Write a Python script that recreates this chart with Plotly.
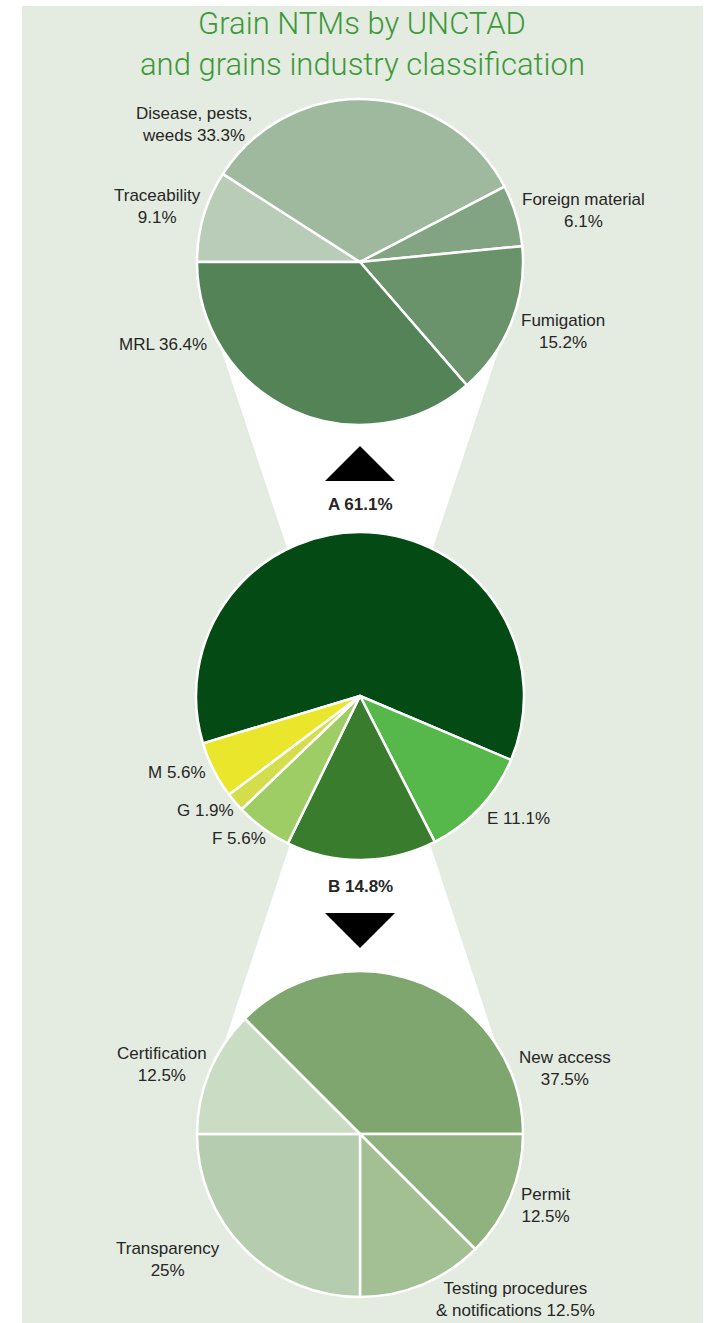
import plotly.graph_objects as go

# ---------------- data ----------------
title_lines = ["Grain NTMs by UNCTAD", "and grains industry classification"]

top_labels = ["Traceability", "Disease, pests, weeds", "Foreign material", "Fumigation", "MRL"]
top_values = [9.1, 33.3, 6.1, 15.2, 36.4]
top_colors = ["#b9ccb8", "#9fb99e", "#82a482", "#6a926b", "#548358"]

mid_labels = ["A", "E", "B", "F", "G", "M"]
mid_values = [61.1, 11.1, 14.8, 5.6, 1.9, 5.6]
mid_colors = ["#034a15", "#56b74b", "#397c2e", "#9dcd64", "#d4dd4c", "#e9e62b"]

bot_labels = ["New access", "Permit", "Testing procedures & notifications", "Transparency", "Certification"]
bot_values = [37.5, 12.5, 12.5, 25, 12.5]
bot_colors = ["#7fa66f", "#8fb27e", "#a3c095", "#b5cdae", "#cbdcc5"]

# ---------------- layout helpers ----------------
W, H = 709, 1323
BG = "#e4ece1"
TXT = "#262626"
FONT = "Roboto, Liberation Sans, Arial, sans-serif"
LABEL_FONT = "Liberation Sans, Arial, sans-serif"


def px(x):
    return x / W


def py(y):
    return 1 - y / H


def fmt(v):
    return f"{v:g}%"


# label display: (text before value, separator)
wrap = {
    "Traceability": ("Traceability", "<br>"),
    "Disease, pests, weeds": ("Disease, pests,<br>weeds", " "),
    "Foreign material": ("Foreign material", "<br>"),
    "Fumigation": ("Fumigation", "<br>"),
    "MRL": ("MRL", " "),
    "New access": ("New access", "<br>"),
    "Permit": ("Permit", "<br>"),
    "Testing procedures & notifications": ("Testing procedures<br>& notifications", " "),
    "Transparency": ("Transparency", "<br>"),
    "Certification": ("Certification", "<br>"),
}

# label positions (pixel centres in the page)
top_pos = {
    "Traceability": (157, 207),
    "Disease, pests, weeds": (194, 124),
    "Foreign material": (583, 211),
    "Fumigation": (563, 331),
    "MRL": (163, 344),
}
mid_pos = {"E": (518, 818), "F": (239, 838), "G": (205, 810), "M": (177, 772),
           "A": (360, 505), "B": (360, 887)}
bot_pos = {
    "New access": (565, 1068),
    "Permit": (545, 1205),
    "Testing procedures & notifications": (515, 1299),
    "Transparency": (168, 1259),
    "Certification": (162, 1064),
}


def domain(cx, cy, r):
    return dict(x=[px(cx - r), px(cx + r)], y=[py(cy + r), py(cy - r)])


fig = go.Figure()

pie_common = dict(sort=False, direction="clockwise", textinfo="none",
                  hoverinfo="label+percent", showlegend=False)

fig.add_trace(go.Pie(labels=top_labels, values=top_values, rotation=-90,
                     marker=dict(colors=top_colors, line=dict(color="white", width=2.5)),
                     domain=domain(360, 262, 163), **pie_common))
fig.add_trace(go.Pie(labels=mid_labels, values=mid_values, rotation=-106.8,
                     marker=dict(colors=mid_colors, line=dict(color="white", width=2.5)),
                     domain=domain(360, 696, 164), **pie_common))
fig.add_trace(go.Pie(labels=bot_labels, values=bot_values, rotation=-45,
                     marker=dict(colors=bot_colors, line=dict(color="white", width=2.5)),
                     domain=domain(360, 1134, 163), **pie_common))

shapes = []
# background panel
shapes.append(dict(type="rect", xref="paper", yref="paper", layer="below",
                   x0=px(22), x1=px(703), y0=0, y1=py(6),
                   fillcolor=BG, line=dict(width=0)))


def poly(points, color, layer="below"):
    d = "M " + " L ".join(f"{px(x):.6f},{py(y):.6f}" for x, y in points) + " Z"
    return dict(type="path", xref="paper", yref="paper", path=d, layer=layer,
                fillcolor=color, line=dict(width=0))


# white funnels between pies
shapes.append(poly([(214.7, 330), (505.3, 330), (429, 560), (291, 560)], "white"))
shapes.append(poly([(293, 835), (427, 835), (504.6, 1070), (215.4, 1070)], "white"))
# arrows
shapes.append(poly([(360, 446), (395, 481), (325, 481)], "black", layer="above"))
shapes.append(poly([(325, 913), (395, 913), (360, 948)], "black", layer="above"))

annotations = []
for i, (line, yc) in enumerate(zip(title_lines, [23, 64])):
    annotations.append(dict(text=line, x=px(362), y=py(yc), xref="paper", yref="paper",
                            xanchor="center", yanchor="middle", showarrow=False, align="center",
                            borderpad=0,
                            font=dict(family=FONT, size=31, weight=300, color="#3e983a")))


def add_labels(labels, values, pos, bold=()):
    for lab, v in zip(labels, values):
        if lab not in pos:
            continue
        if lab in wrap:
            pre, sep = wrap[lab]
        else:
            pre, sep = lab, " "
        text = f"{pre}{sep}{fmt(v)}"
        if lab in bold:
            text = f"<b>{text}</b>"
        x, y = pos[lab]
        annotations.append(dict(text=text, x=px(x), y=py(y), xref="paper", yref="paper",
                                xanchor="center", yanchor="middle", showarrow=False,
                                align="center", font=dict(family=LABEL_FONT, size=17, color=TXT)))


add_labels(top_labels, top_values, top_pos)
add_labels(mid_labels, mid_values, mid_pos, bold=("A", "B"))
add_labels(bot_labels, bot_values, bot_pos)

fig.update_layout(width=W, height=H, margin=dict(l=0, r=0, t=0, b=0),
                  paper_bgcolor="white", plot_bgcolor="white",
                  shapes=shapes, annotations=annotations)

fig.write_html("out.html", config={"displayModeBar": False},
               post_script="document.body.style.margin='0';document.body.style.overflow='hidden';")
